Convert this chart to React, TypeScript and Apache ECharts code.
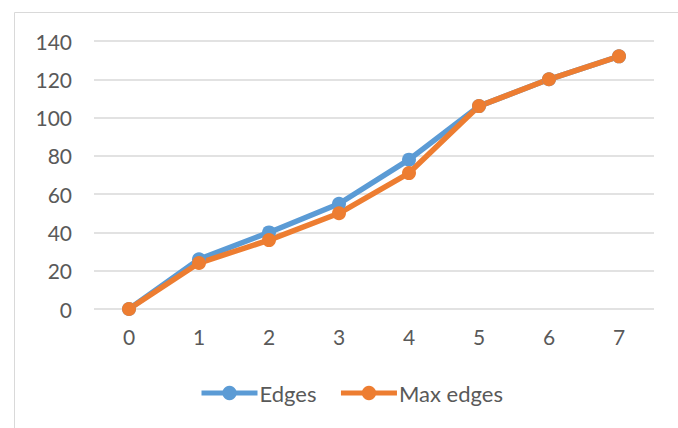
import React, { useEffect, useRef } from "react";
import * as echarts from "echarts";

const categories = ["0", "1", "2", "3", "4", "5", "6", "7"];
const edges = [0, 26, 40, 55, 78, 106, 120, 132];
const maxEdges = [0, 24, 36, 50, 71, 106, 120, 132];
const yTicks = { min: 0, max: 140, interval: 20 };

const BLUE = "#5B9BD5";
const ORANGE = "#ED7D31";
const FONT = "Lato";

export default function App() {
  const ref = useRef<HTMLDivElement>(null);

  useEffect(() => {
    if (!ref.current) return;
    const chart = echarts.init(ref.current, null, { renderer: "svg" });
    const lineSeries = (name: string, data: number[], color: string) => ({
      name,
      type: "line",
      data,
      symbol: "circle",
      symbolSize: 14,
      lineStyle: { color, width: 5.5 },
      itemStyle: { color },
      emphasis: { disabled: true },
    });
    chart.setOption({
      animation: false,
      textStyle: { fontFamily: FONT },
      graphic: [
        {
          type: "rect",
          shape: { x: 14.5, y: 12.5, width: 700, height: 440 },
          style: { fill: "none", stroke: "#d9d9d9", lineWidth: 1 },
          silent: true,
        },
      ],
      grid: { left: 94, right: 24, top: 41, bottom: 119, containLabel: false },
      xAxis: {
        type: "category",
        data: categories,
        boundaryGap: true,
        axisLine: { show: false },
        axisTick: { show: false },
        axisLabel: { color: "#595959", fontSize: 21, margin: 17, fontFamily: FONT },
      },
      yAxis: {
        type: "value",
        min: yTicks.min,
        max: yTicks.max,
        interval: yTicks.interval,
        axisLine: { show: false },
        axisTick: { show: false },
        splitLine: { lineStyle: { color: "#d9d9d9", width: 1.5 } },
        axisLabel: { color: "#595959", fontSize: 21, margin: 22, fontFamily: FONT },
      },
      legend: {
        data: ["Edges", "Max edges"],
        top: 377,
        left: 194,
        itemWidth: 56,
        itemHeight: 18,
        itemGap: 22,
        lineStyle: { width: 5 },
        textStyle: { color: "#595959", fontSize: 22, fontFamily: FONT, padding: [0, 0, 0, -3] },
      },
      series: [lineSeries("Edges", edges, BLUE), lineSeries("Max edges", maxEdges, ORANGE)],
    });
    return () => chart.dispose();
  }, []);

  return (
    <div
      ref={ref}
      style={{ position: "absolute", left: 0, top: 0, width: 678, height: 428, background: "#fff" }}
    />
  );
}
